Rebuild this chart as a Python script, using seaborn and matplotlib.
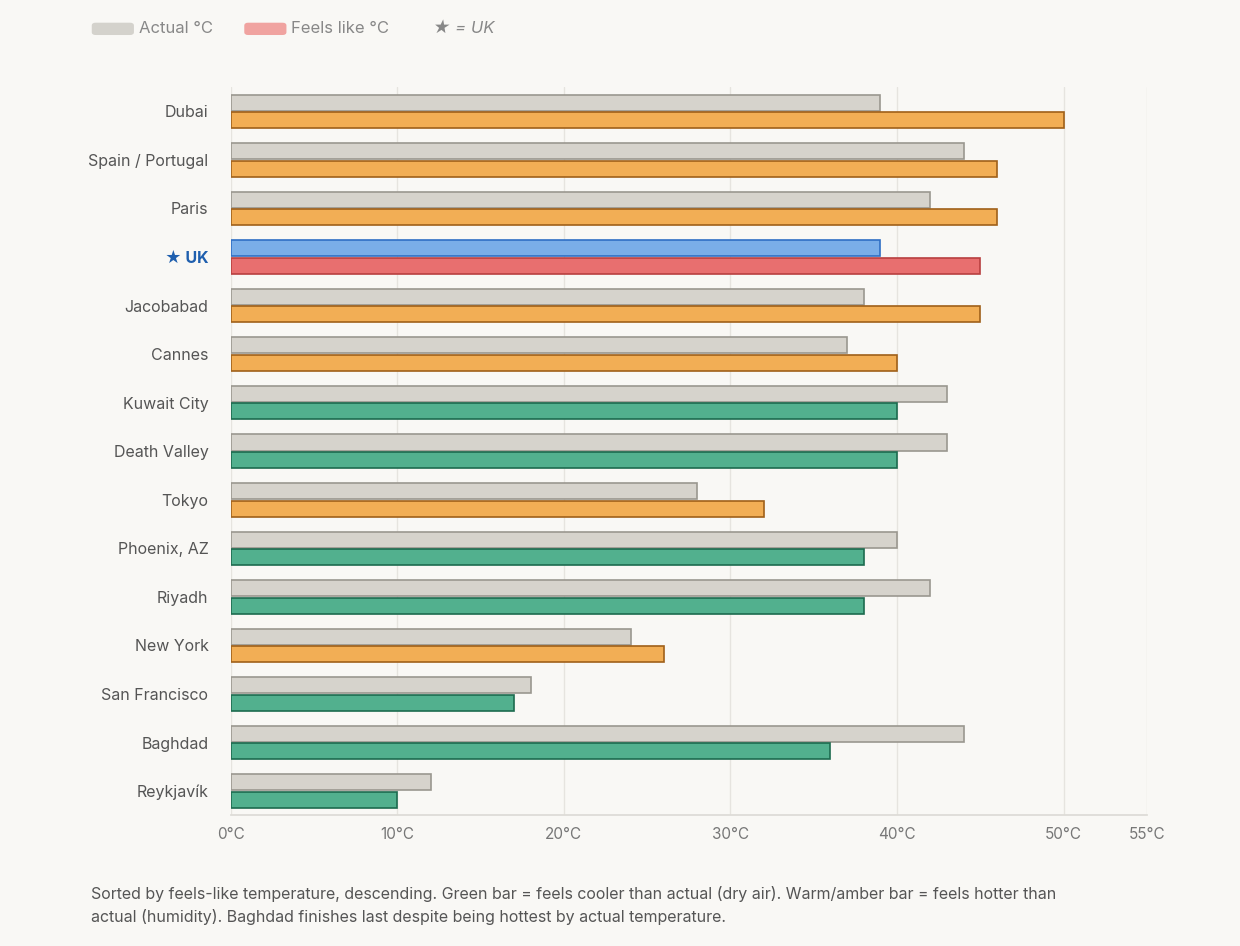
import pandas as pd
import numpy as np
import matplotlib.pyplot as plt
import seaborn as sns
from matplotlib.patches import FancyBboxPatch

cities = ['Dubai', 'Spain / Portugal', 'Paris', '★ UK', 'Jacobabad', 'Cannes', 'Kuwait City',
          'Death Valley', 'Tokyo', 'Phoenix, AZ', 'Riyadh', 'New York', 'San Francisco',
          'Baghdad', 'Reykjavík']
actual = [39, 44, 42, 39, 38, 37, 43, 43, 28, 40, 42, 24, 18, 44, 12]
feels = [50, 46, 46, 45, 45, 40, 40, 40, 32, 38, 38, 26, 17, 36, 10]
x_ticks = [0, 10, 20, 30, 40, 50, 55]

BG = '#f9f8f5'
GREY, GREY_E = '#d6d3cc', '#9a978f'
AMBER, AMBER_E = '#f2ae55', '#a0601a'
GREEN, GREEN_E = '#52b08e', '#1d6b4f'
BLUE, BLUE_E = '#7aaee8', '#2f6fc4'
RED, RED_E = '#e86f6f', '#b84040'

df = pd.DataFrame({'city': cities * 2,
                   'value': actual + feels,
                   'series': ['Actual'] * len(cities) + ['Feels'] * len(cities)})

sns.set_theme(style='white')
plt.rcParams['font.family'] = ['Inter', 'DejaVu Sans']

fig = plt.figure(figsize=(12.4, 9.46), dpi=100, facecolor=BG)
ax = fig.add_axes([0.186, 0.138, 0.739, 0.77], facecolor=BG)

sns.barplot(data=df, y='city', x='value', hue='series', order=cities, orient='h',
            dodge=True, width=0.72, gap=0.08, legend=False, ax=ax)

n = len(cities)
for i, p in enumerate(ax.patches[:2 * n]):
    idx = i % n
    uk = cities[idx].endswith('UK')
    if i < n:
        fc, ec = (BLUE, BLUE_E) if uk else (GREY, GREY_E)
    else:
        if uk:
            fc, ec = RED, RED_E
        elif feels[idx] > actual[idx]:
            fc, ec = AMBER, AMBER_E
        else:
            fc, ec = GREEN, GREEN_E
    p.set_facecolor(fc)
    p.set_edgecolor(ec)
    p.set_linewidth(1.2)

ax.set_xlim(0, 55)
ax.set_xticks(x_ticks)
ax.set_xticklabels([f'{t}°C' for t in x_ticks], color='#777777', fontsize=11)
ax.grid(axis='x', color='#e6e4df', linewidth=1)
ax.set_axisbelow(True)
ax.set_xlabel('')
ax.set_ylabel('')
for s in ['top', 'right', 'left']:
    ax.spines[s].set_visible(False)
ax.spines['bottom'].set_color('#dddbd6')
ax.tick_params(axis='y', length=0, pad=16)
ax.tick_params(axis='x', length=0, pad=8)
for lab in ax.get_yticklabels():
    lab.set_fontsize(11.5)
    if lab.get_text().endswith('UK'):
        lab.set_color('#1f5fae')
        lab.set_fontweight('bold')
    else:
        lab.set_color('#555555')

# legend
for x0, col, txt in [(0.074, '#d4d2cc', 'Actual °C'), (0.197, '#f0a3a0', 'Feels like °C')]:
    fig.patches.append(FancyBboxPatch((x0, 0.963), 0.034, 0.013, transform=fig.transFigure,
                                      boxstyle='round,pad=0,rounding_size=0.003',
                                      facecolor=col, edgecolor='none'))
    fig.text(x0 + 0.038, 0.970, txt, fontsize=12, color='#888888', va='center')
fig.text(0.349, 0.970, '★ = UK', fontsize=12, color='#888888', va='center', style='italic')

fig.text(0.073, 0.043,
         'Sorted by feels-like temperature, descending. Green bar = feels cooler than actual (dry air). Warm/amber bar = feels hotter than\n'
         'actual (humidity). Baghdad finishes last despite being hottest by actual temperature.',
         fontsize=11.5, color='#555555', va='center', linespacing=1.5)

fig.savefig('out.png', dpi=100, facecolor=BG)
